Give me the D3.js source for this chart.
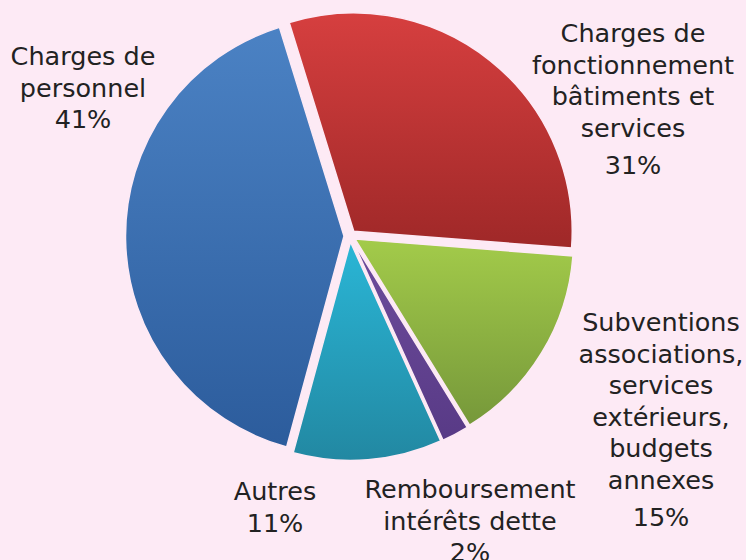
<!DOCTYPE html>
<html>
<head>
<meta charset="utf-8">
<script src="https://cdn.jsdelivr.net/npm/d3@7"></script>
<style>
  body { margin: 0; background: #fdeaf5; }
  svg { display: block; }
  .label { font-family: "DejaVu Sans", Verdana, sans-serif; font-size: 25.5px; fill: #222; }
</style>
</head>
<body>
<div id="chart"></div>
<script>
// data, clockwise from the top
let categories = ["fonctionnement", "subventions", "remboursement", "autres", "personnel"];
let values = [31, 15, 2, 11, 41];
let labelLines = [
  ["Charges de", "fonctionnement", "bâtiments et", "services"],
  ["Subventions", "associations,", "services", "extérieurs,", "budgets", "annexes"],
  ["Remboursement", "intérêts dette"],
  ["Autres"],
  ["Charges de", "personnel"]
];
let colorsTop = ["#d63f3f", "#a3cb4a", "#6e4c9c", "#2ab6d6", "#4b82c4"];
let colorsBottom = ["#9f2828", "#76983a", "#583a86", "#2288a2", "#2c5c9c"];

// where each label block sits (centre x, first baseline, extra gap before the %)
let labelPos = [
  { x: 633, y: 42, gap: 6 },
  { x: 661, y: 331, gap: 6 },
  { x: 470, y: 498, gap: 0 },
  { x: 275, y: 500, gap: 0 },
  { x: 83, y: 65, gap: 0 }
];

let W = 746, H = 560;
let cx = 350, cy = 236, R = 218.5, explode = 6;
let lineH = 31.5;

let svg = d3.select("#chart").append("svg")
  .attr("width", W)
  .attr("height", H);

svg.append("rect")
  .attr("width", W)
  .attr("height", H)
  .attr("fill", "#fdeaf5");

let defs = svg.append("defs");
categories.forEach((c, i) => {
  let g = defs.append("linearGradient")
    .attr("id", "grad-" + c)
    .attr("x1", 0).attr("y1", 0)
    .attr("x2", 0).attr("y2", 1);
  g.append("stop").attr("offset", "0%").attr("stop-color", colorsTop[i]);
  g.append("stop").attr("offset", "100%").attr("stop-color", colorsBottom[i]);
});

let pie = d3.pie()
  .sort(null)
  .startAngle(-0.30)
  .endAngle(-0.30 + 2 * Math.PI);

let arcs = pie(values);

let arc = d3.arc()
  .innerRadius(0)
  .outerRadius(R);

let chart = svg.append("g")
  .attr("transform", `translate(${cx}, ${cy})`);

chart.selectAll(".slice")
  .data(arcs)
  .enter()
  .append("path")
    .attr("class", "slice")
    .attr("transform", d => {
      let a = (d.startAngle + d.endAngle) / 2;
      return `translate(${Math.sin(a) * explode}, ${-Math.cos(a) * explode})`;
    })
    .attr("d", arc)
    .attr("fill", (d, i) => `url(#grad-${categories[i]})`)
    .attr("stroke", "#fdeaf5")
    .attr("stroke-width", 1.5)
    .attr("stroke-linejoin", "round");

// labels
let labels = svg.selectAll(".labelGroup")
  .data(categories)
  .enter()
  .append("text")
    .attr("class", "label")
    .attr("text-anchor", "middle");

labels.each(function(c, i) {
  let t = d3.select(this);
  let p = labelPos[i];
  let lines = labelLines[i];
  lines.forEach((l, j) => {
    t.append("tspan")
      .attr("x", p.x)
      .attr("y", p.y + j * lineH)
      .text(l);
  });
  t.append("tspan")
    .attr("x", p.x)
    .attr("y", p.y + lines.length * lineH + p.gap)
    .text(values[i] + "%");
});
</script>
</body>
</html>
